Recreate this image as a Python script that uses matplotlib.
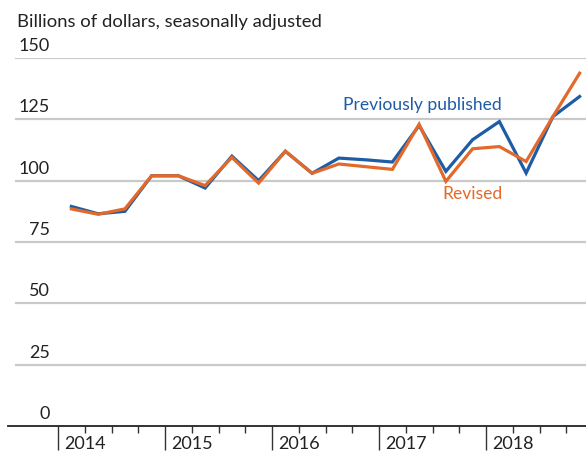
import matplotlib
matplotlib.use("Agg")
import matplotlib.pyplot as plt
import matplotlib.transforms as mtransforms
import numpy as np

plt.rcParams['font.family'] = ['Lato', 'DejaVu Sans']

years = [2014, 2015, 2016, 2017, 2018]
quarters_per_year = 4
previously_published = [89.5, 86.5, 87.5, 102, 102, 97, 110, 100, 112, 103,
                        109.2, 108.5, 107.6, 122.5, 103.8, 116.7, 124.1, 103.1, 126.1, 134.3]
revised = [88.5, 86.3, 88.5, 102, 102, 98, 109.5, 99, 112, 103,
           106.8, 105.7, 104.6, 123, 99.7, 113, 113.9, 107.8, 126.1, 143.8]
y_ticks = [0, 25, 50, 75, 100, 125, 150]
title = "Billions of dollars, seasonally adjusted"

W, H = 586, 453
fig = plt.figure(figsize=(W / 100, H / 100), dpi=100)

ax_left_px, ax_right_px = 8, 586
ax_bottom_px, ax_top_px = 426, 58
ax = fig.add_axes([ax_left_px / W, 1 - ax_bottom_px / H,
                   (ax_right_px - ax_left_px) / W, (ax_bottom_px - ax_top_px) / H])

year_px = 107.0
x0_px = 58.0
ax.set_xlim(2014 + (ax_left_px - x0_px) / year_px, 2014 + (ax_right_px - x0_px) / year_px)
ax.set_ylim(0, 150)

n = len(previously_published)
xq = 2014 + (np.arange(n) + 0.5) / quarters_per_year

blue = '#1f5ca6'
orange = '#e2692a'

# gridlines
for v in y_ticks[1:]:
    ax.axhline(v, xmin=(16 - ax_left_px) / (ax_right_px - ax_left_px), xmax=1,
               color='#c9c9c9', lw=1.6, zorder=1)

ax.plot(xq, previously_published, color=blue, lw=2.3, zorder=3, solid_joinstyle='miter')
ax.plot(xq, revised, color=orange, lw=2.3, zorder=4, solid_joinstyle='miter')

for s in ['top', 'right', 'left']:
    ax.spines[s].set_visible(False)
ax.spines['bottom'].set_color('#222222')
ax.spines['bottom'].set_linewidth(1.3)
ax.spines['bottom'].set_zorder(5)

ax.set_yticks([])
ax.set_xticks(years)
ax.set_xticks([y + q / 4 for y in years for q in range(1, 4)], minor=True)
ax.tick_params(axis='x', which='major', length=17, width=1.0, color='#333333', labelbottom=False)
ax.tick_params(axis='x', which='minor', length=5, width=1.0, color='#333333')

# y tick labels (above gridlines)
ytrans = mtransforms.blended_transform_factory(fig.transFigure, ax.transData)
ytrans = mtransforms.offset_copy(ytrans, fig=fig, x=0, y=4, units='dots')
for v in y_ticks:
    ax.text(50 / W, v, str(v), transform=ytrans, ha='right', va='bottom',
            fontsize=13, color='#222222')

# year labels
xtrans = mtransforms.blended_transform_factory(ax.transData, fig.transFigure)
for yr in years:
    ax.text(yr + 6 / year_px, 1 - 449 / H, str(yr), transform=xtrans, ha='left',
            va='baseline', fontsize=13, color='#222222', clip_on=False)

fig.text(17 / W, 1 - 27 / H, title, ha='left', va='baseline', fontsize=13.3, color='#222222')

ax.text(2017 + (345 - 381) / year_px, 131, 'Previously published', color=blue,
        fontsize=12.6, ha='left', va='center')
ax.text(2017 + (444 - 381) / year_px, 94.5, 'Revised', color=orange,
        fontsize=12.6, ha='left', va='center')

fig.savefig('out.png', dpi=100)
